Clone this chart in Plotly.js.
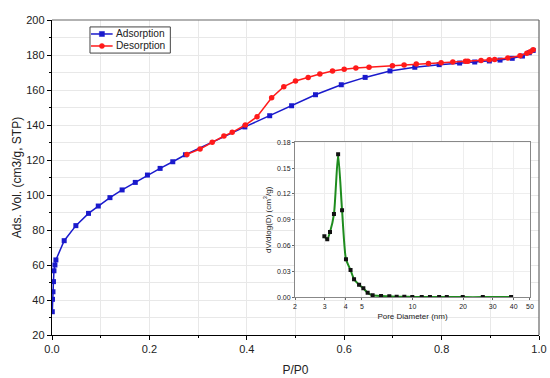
<!DOCTYPE html>
<html><head><meta charset="utf-8">
<script src="https://cdn.plot.ly/plotly-3.0.1.min.js"></script>
<style>html,body{margin:0;padding:0;background:#fff}#c{width:550px;height:378px}</style>
</head><body><div id="c"></div>
<script>
const adsP = [0.0006, 0.001, 0.002, 0.003, 0.004, 0.006, 0.008, 0.025, 0.049, 0.075, 0.095, 0.119, 0.144, 0.171, 0.196, 0.222, 0.248, 0.274, 0.396, 0.447, 0.492, 0.541, 0.594, 0.643, 0.694, 0.745, 0.795, 0.837, 0.868, 0.898, 0.92, 0.945, 0.966, 0.98, 0.988];
const adsV = [33.3, 40.4, 44.7, 50.5, 56.7, 60, 62.9, 73.9, 82.5, 89.5, 93.7, 98.5, 102.9, 107.2, 111.4, 115.2, 119, 123, 138.9, 145.3, 151, 157.3, 163, 167.2, 170.9, 173, 174.5, 175.4, 176, 176.6, 177.1, 178.1, 179.4, 181.3, 182.6];
const desP = [0.988, 0.982, 0.975, 0.961, 0.936, 0.909, 0.898, 0.881, 0.854, 0.849, 0.823, 0.799, 0.773, 0.748, 0.723, 0.699, 0.651, 0.624, 0.6, 0.576, 0.55, 0.526, 0.5, 0.476, 0.451, 0.421, 0.397, 0.37, 0.353, 0.329, 0.304, 0.277];
const desV = [183, 181.9, 181, 179.6, 178.3, 177.5, 177.3, 176.9, 176.4, 176.4, 176, 175.6, 175.2, 174.9, 174.3, 173.9, 173, 172.6, 171.8, 170.9, 169.1, 167.2, 165.1, 161.9, 155.6, 144.7, 140, 135.8, 133.7, 130.1, 126.3, 123.2];
const poreD = [2.99, 3.11, 3.23, 3.41, 3.61, 3.81, 4.02, 4.28, 4.49, 4.81, 5.1, 5.41, 5.79, 6.5, 7.28, 8.05, 8.94, 9.97, 11.35, 12.7, 14.4, 16, 19.9, 26.2, 38.6];
const poreV = [0.0708, 0.0673, 0.0758, 0.0967, 0.166, 0.101, 0.0441, 0.0317, 0.0209, 0.0146, 0.0104, 0.0053, 0.0023, 0.0015, 0.0012, 0.0007, 0.0007, 0.0004, 0.0003, 0.0003, 0.0003, 0.0003, 0.0002, 0.0002, 0.0002];
const insetTicks = [2, 3, 4, 5, 10, 20, 30, 40, 50];
const seriesNames = ['Adsorption', 'Desorption'];
const seriesColors = ['#1a1acc', '#ff1a1a'];

const font = 'Liberation Sans, Arial, sans-serif';
const traces = [
  {x: adsP, y: adsV, name: seriesNames[0], type: 'scatter', mode: 'lines+markers', showlegend: false,
   line: {color: seriesColors[0], width: 1.5}, marker: {symbol: 'square', size: 5, color: seriesColors[0]}},
  {x: desP, y: desV, name: seriesNames[1], type: 'scatter', mode: 'lines+markers', showlegend: false,
   line: {color: seriesColors[1], width: 1.5}, marker: {symbol: 'circle', size: 5.5, color: seriesColors[1]}},
  {x: poreD, y: poreV, xaxis: 'x2', yaxis: 'y2', type: 'scatter', mode: 'lines+markers', showlegend: false,
   line: {color: '#1e8c1e', width: 2, shape: 'spline', smoothing: 0.6},
   marker: {symbol: 'square', size: 4, color: '#111'}}
];

// legend box (layout decoration, paper coordinates)
const lg = {x0: 0.078, x1: 0.243, y0: 0.895, y1: 0.978, rows: [0.9556, 0.9175], lx0: 0.08, lx1: 0.1245, mx: 0.1025, tx: 0.1295};
const shapes = [
  {type: 'line', xref: 'paper', yref: 'paper', x0: 0, x1: 1, y0: 1, y1: 1, line: {color: '#666', width: 1.2}},
  {type: 'line', xref: 'paper', yref: 'paper', x0: 1, x1: 1, y0: 0, y1: 1, line: {color: '#666', width: 1.2}},
  {type: 'rect', xref: 'paper', yref: 'paper', x0: lg.x0, x1: lg.x1, y0: lg.y0, y1: lg.y1, fillcolor: '#fff', line: {color: '#444', width: 1}, layer: 'above'}
];
const annotations = [];
seriesNames.forEach((nm, i) => {
  const ry = lg.rows[i];
  shapes.push({type: 'line', xref: 'paper', yref: 'paper', x0: lg.lx0, x1: lg.lx1, y0: ry, y1: ry, line: {color: seriesColors[i], width: 1.5}, layer: 'above'});
  shapes.push({type: i === 0 ? 'rect' : 'circle', xref: 'paper', yref: 'paper', x0: lg.mx - 0.0052, x1: lg.mx + 0.0052, y0: ry - 0.008, y1: ry + 0.008, fillcolor: seriesColors[i], line: {color: seriesColors[i], width: 0.5}, layer: 'above'});
  annotations.push({xref: 'paper', yref: 'paper', x: lg.tx, y: ry, xanchor: 'left', yanchor: 'middle', showarrow: false, borderpad: 0, text: nm, font: {size: 10.2, family: font, color: '#222'}});
});

const layout = {
  width: 550, height: 378,
  margin: {l: 52, r: 11, t: 20, b: 43},
  paper_bgcolor: '#fff', plot_bgcolor: '#fff',
  font: {family: font, color: '#222'},
  showlegend: false,
  xaxis: {domain: [0, 1], range: [0, 1], dtick: 0.2, tickformat: '.1f', showline: true, linecolor: '#000', linewidth: 1.2,
    ticks: 'outside', ticklen: 4, tickcolor: '#000', zeroline: false,
    showgrid: true, gridcolor: '#e8e8e8', gridwidth: 1,
    minor: {dtick: 0.1, showgrid: true, gridcolor: '#e8e8e8', ticks: 'outside', ticklen: 2, tickcolor: '#000'},
    tickfont: {size: 11, family: font},
    title: {text: 'P/P0', font: {size: 12, family: font}, standoff: 11}},
  yaxis: {domain: [0, 1], range: [20, 200], dtick: 20, showline: true, linecolor: '#000', linewidth: 1.2,
    ticks: 'outside', ticklen: 4, tickcolor: '#000', zeroline: false,
    showgrid: true, gridcolor: '#e8e8e8', gridwidth: 1,
    minor: {dtick: 10, showgrid: true, gridcolor: '#e8e8e8', ticks: 'outside', ticklen: 2, tickcolor: '#000'},
    tickfont: {size: 11, family: font},
    title: {text: 'Ads. Vol. (cm3/g, STP)', font: {size: 12, family: font}, standoff: 2}},
  xaxis2: {domain: [0.499, 0.9815], anchor: 'y2', type: 'log', range: [Math.log10(2), Math.log10(50)],
    tickvals: insetTicks, ticktext: insetTicks.map(String), showline: true, mirror: true, linecolor: '#888', linewidth: 1,
    ticks: 'outside', ticklen: 2, tickcolor: '#666', showgrid: true, gridcolor: '#eeeeee', zeroline: false,
    tickfont: {size: 7, family: font},
    title: {text: 'Pore Diameter (nm)', font: {size: 8, family: font}, standoff: 4}},
  yaxis2: {domain: [0.1197, 0.6117], anchor: 'x2', range: [0, 0.18], dtick: 0.03, tickformat: '.2f',
    showline: true, mirror: true, linecolor: '#888', linewidth: 1,
    ticks: 'outside', ticklen: 2, tickcolor: '#666', showgrid: true, gridcolor: '#eeeeee', zeroline: false,
    tickfont: {size: 7, family: font},
    title: {text: 'dV/dlog(D) (cm<sup>3</sup>/g)', font: {size: 8, family: font}, standoff: 4}},
  shapes: shapes,
  annotations: annotations
};
Plotly.newPlot('c', traces, layout, {staticPlot: true, displayModeBar: false});
</script></body></html>
